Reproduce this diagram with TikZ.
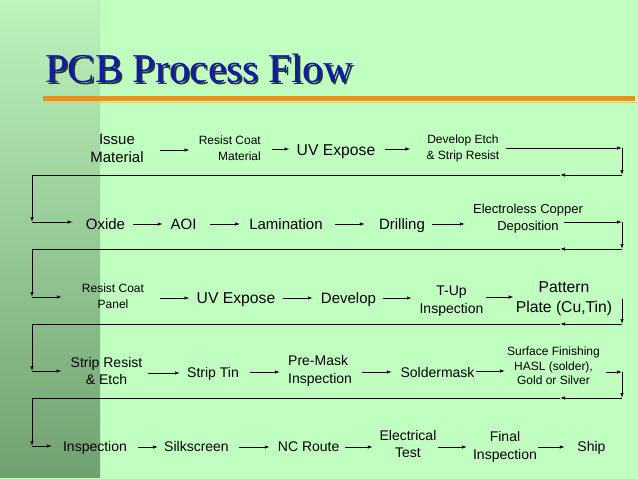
\documentclass[tikz,border=0pt]{standalone}
\usepackage{fontspec}
\setmainfont{Liberation Sans}
\newfontfamily\titlefont{Liberation Serif}
\usetikzlibrary{arrows.meta}
\definecolor{bgc}{RGB}{192,255,192}
\definecolor{bandtop}{RGB}{188,244,188}
\definecolor{bandbot}{RGB}{112,160,112}
\definecolor{titleblue}{RGB}{22,22,184}
\definecolor{titleshadow}{RGB}{30,62,30}
\definecolor{rule}{RGB}{240,142,24}
\definecolor{rulelight}{RGB}{246,196,96}
\newcommand\flow[5]{\draw[arr,shorten <=#3pt,shorten >=#4pt] (#1.east |- 0,#5) -- (#2.west |- 0,#5);}
\begin{document}
\begin{tikzpicture}[x=1pt,y=-1pt,
  arr/.style={draw=black,line width=0.8pt,-{Latex[length=5pt,width=3.4pt]}},
  ln/.style={draw=black,line width=0.8pt},
  lbl/.style={inner sep=0pt,align=center,text=black},
  f12/.style={lbl,font=\fontsize{12}{16}\selectfont},
  f12b/.style={lbl,font=\fontsize{12}{14.5}\selectfont},
  f13/.style={lbl,font=\fontsize{13}{17}\selectfont},
  f14/.style={lbl,font=\fontsize{14}{17.5}\selectfont},
  f15/.style={lbl,font=\fontsize{15}{18}\selectfont},
  f16/.style={lbl,font=\fontsize{15.7}{20}\selectfont},
  s14/.style={f14,text height=10.1pt,text depth=0pt},
  s15/.style={f15,text height=10.8pt,text depth=0pt},
  s16/.style={f16,text height=11.3pt,text depth=0pt}]
\useasboundingbox (0,0) rectangle (638,479);
\fill[bgc] (0,0) rectangle (638,479);
\shade[top color=bandtop,bottom color=bandbot] (0,0) rectangle (100,477);
% title
\node[anchor=base west,inner sep=0pt,font=\titlefont\fontsize{41}{41}\selectfont,text=titleshadow] (titleshadow) at (47,84) {PCB Process Flow};
\node[anchor=base west,inner sep=0pt,font=\titlefont\fontsize{41}{41}\selectfont,text=titleblue] (title) at (45,82) {PCB Process Flow};
\draw[rule,line width=4.5pt] (43,98.5) -- (635,98.5);
\draw[rulelight,line width=1.3pt] (43,102.5) -- (637,102.5);
% row 1
\node[f15] (issue) at (117,148) {Issue\\Material};
\node[f12,align=right,anchor=east] (rc1) at (261,148) {Resist Coat\\Material};
\node[s16] (uv1) at (336,150) {UV Expose};
\node[f12] (dev) at (463,148) {Develop Etch\\\& Strip Resist};
% row 2
\node[s15] (oxide) at (105.5,224) {Oxide};
\node[s15] (aoi) at (183.5,224) {AOI};
\node[s15] (lam) at (286,224) {Lamination};
\node[s15] (drill) at (402,224) {Drilling};
\node[f13] (elec) at (528,219) {Electroless Copper\\Deposition};
% row 3
\node[f12] (rcp) at (113,296) {Resist Coat\\Panel};
\node[s16] (uv2) at (236,298) {UV Expose};
\node[s15] (develop) at (348.5,298) {Develop};
\node[f14] (tup) at (451.5,301) {T-Up\\Inspection};
\node[f16] (pattern) at (564,299) {Pattern\\Plate (Cu,Tin)};
% row 4
\node[f14] (strip) at (106.5,371) {Strip Resist\\\& Etch};
\node[s14] (striptin) at (213,372) {Strip Tin};
\node[f14,align=left,anchor=west] (premask) at (288,371) {Pre-Mask\\Inspection};
\node[s14] (solder) at (437.5,372) {Soldermask};
\node[f12b] (surface) at (553.5,366) {Surface Finishing\\HASL (solder),\\Gold or Silver};
% row 5
\node[s14] (insp) at (95,446) {Inspection};
\node[s14] (silk) at (196.5,446) {Silkscreen};
\node[s14] (ncr) at (308.7,446) {NC Route};
\node[f14] (elect) at (408,444) {Electrical\\Test};
\node[f14] (final) at (505,447) {Final\\Inspection};
\node[s14] (ship) at (591.5,446) {Ship};
% turn coordinates
\coordinate (r1a) at (622,148); \coordinate (r1b) at (622,175); \coordinate (m1) at (560,175);
\coordinate (l1a) at (32,175); \coordinate (l1b) at (32,222);
\coordinate (r2a) at (622,222); \coordinate (r2b) at (622,249); \coordinate (m2) at (560,249);
\coordinate (l2a) at (32,249); \coordinate (l2b) at (32,297);
\coordinate (r3b) at (622,324); \coordinate (m3) at (560,324);
\coordinate (l3a) at (32,324); \coordinate (l3b) at (32,371);
\coordinate (r4a) at (622,372); \coordinate (r4b) at (622,398); \coordinate (m4) at (560,398);
\coordinate (l4a) at (32,398); \coordinate (l4b) at (32,446);
% row 1 arrows
\flow{issue}{rc1}{16}{9}{150}
\flow{rc1}{uv1}{11}{7}{149}
\flow{uv1}{dev}{10}{16}{149}
\draw[arr,shorten <=6pt] (dev.east |- r1a) -- (r1a);
\draw[arr] (r1a) -- (r1b);
\draw[arr] (r1b) -- (m1);
\draw[ln] (m1) -- (l1a);
\draw[arr] (l1a) -- (l1b);
\draw[arr,shorten >=13pt] (l1b) -- (oxide.west |- l1b);
% row 2 arrows
\flow{oxide}{aoi}{8}{7.6}{224}
\flow{aoi}{lam}{13.6}{9}{224}
\flow{lam}{drill}{12}{14}{224}
\flow{drill}{elec}{7}{8}{224}
\draw[arr,shorten <=36pt] (elec.center |- r2a) -- (r2a);
\draw[arr] (r2a) -- (r2b);
\draw[arr] (r2b) -- (m2);
\draw[ln] (m2) -- (l2a);
\draw[arr] (l2a) -- (l2b);
\draw[arr,shorten >=20pt] (l2b) -- (rcp.west |- l2b);
% row 3 arrows
\flow{rcp}{uv2}{16}{7}{298}
\flow{uv2}{develop}{8}{8}{298}
\flow{develop}{tup}{7}{7.6}{298}
\flow{tup}{pattern}{2}{2}{297}
\draw[arr] (pattern.east -| r3b) -- (r3b);
\draw[arr] (r3b) -- (m3);
\draw[ln] (m3) -- (l3a);
\draw[arr] (l3a) -- (l3b);
\draw[arr,shorten >=9pt] (l3b) -- (strip.west |- l3b);
% row 4 arrows
\flow{strip}{striptin}{6}{7}{373}
\flow{striptin}{premask}{11}{8}{372}
\flow{premask}{solder}{10}{8.5}{372}
\flow{solder}{surface}{1.5}{2}{371}
\draw[arr,shorten <=6pt] (surface.east |- r4a) -- (r4a);
\draw[arr] (r4a) -- (r4b);
\draw[arr] (r4b) -- (m4);
\draw[ln] (m4) -- (l4a);
\draw[arr] (l4a) -- (l4b);
\draw[arr,shorten >=11pt] (l4b) -- (insp.west |- l4b);
% row 5 arrows
\flow{insp}{silk}{11}{6}{447}
\flow{silk}{ncr}{10}{8}{447}
\flow{ncr}{elect}{5.5}{6.6}{447}
\flow{elect}{final}{1}{6}{447}
\flow{final}{ship}{1}{12.5}{447}
\end{tikzpicture}
\end{document}
